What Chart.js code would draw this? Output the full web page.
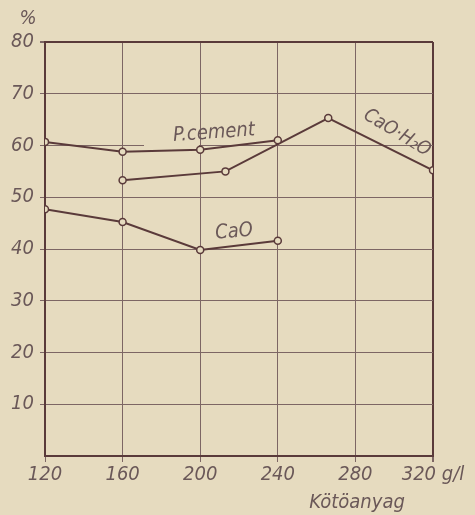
<!DOCTYPE html>
<html>
<head>
<meta charset="utf-8">
<script src="https://cdn.jsdelivr.net/npm/chart.js@4/dist/chart.umd.min.js"></script>
<style>
  html, body { margin: 0; padding: 0; background: #e6dbbf; }
  #wrap { width: 475px; height: 515px; }
</style>
</head>
<body>
<div id="wrap"><canvas id="chart"></canvas></div>
<script>
// values
const pcementX = [120, 160, 200, 240];
const pcementY = [60.7, 58.8, 59.2, 61.0];

const hydrateX = [160, 213, 266, 320];
const hydrateY = [53.3, 55.0, 65.3, 55.2];

const caoX = [120, 160, 200, 240];
const caoY = [47.7, 45.2, 39.8, 41.6];

const xTicks = [120, 160, 200, 240, 280, 320];
const xTickLabels = ['120', '160', '200', '240', '280', '320 g/l'];
const yTicks = [10, 20, 30, 40, 50, 60, 70, 80];

const paper = '#e6dbbf';
const ink = '#5a3a3a';
const gridInk = '#7d6664';
const textInk = '#6a5858';
const handFont = '"DejaVu Sans Condensed", "Liberation Sans Narrow", "DejaVu Sans", sans-serif';

const toPoints = (xs, ys) => xs.map((x, i) => ({ x: x, y: ys[i] }));

const lineStyle = {
    borderColor: ink,
    borderWidth: 2,
    pointRadius: 3.5,
    pointBackgroundColor: paper,
    pointBorderColor: ink,
    pointBorderWidth: 1.5,
    tension: 0,
    fill: false,
};

// labels written on the chart
const notes = {
    id: 'notes',
    beforeDatasetsDraw(chart) {
        const ctx = chart.ctx;
        // the gap cut in the grid behind "P.cement"
        ctx.save();
        ctx.fillStyle = paper;
        ctx.fillRect(144, 116, 55, 31);
        ctx.restore();
    },
    afterDraw(chart) {
        const ctx = chart.ctx;
        const put = (text, x, y, size, angle) => {
            ctx.save();
            ctx.translate(x, y);
            ctx.rotate((angle || 0) * Math.PI / 180);
            ctx.font = 'italic ' + size + 'px ' + handFont;
            ctx.fillStyle = textInk;
            ctx.textAlign = 'center';
            ctx.textBaseline = 'middle';
            ctx.fillText(text, 0, 0);
            ctx.restore();
        };
        put('%', 28, 19, 20);
        put('P.cement', 214, 133, 20, -4);
        put('CaO', 234, 232, 20, -5);
        put('CaO·H₂O', 397, 133, 19, 31);
        put('Kötöanyag', 357, 503, 20);
    }
};

new Chart(document.getElementById('chart'), {
    type: 'line',
    data: {
        datasets: [
            { label: 'P.cement', data: toPoints(pcementX, pcementY), ...lineStyle },
            { label: 'CaO·H2O', data: toPoints(hydrateX, hydrateY), ...lineStyle },
            { label: 'CaO', data: toPoints(caoX, caoY), ...lineStyle },
        ],
    },
    options: {
        responsive: true,
        maintainAspectRatio: false,
        animation: false,
        layout: { padding: { top: 42, right: 42, left: 0, bottom: 0 } },
        plugins: {
            legend: { display: false },
            tooltip: { enabled: false },
        },
        scales: {
            x: {
                type: 'linear',
                min: 120,
                max: 320,
                afterFit(scale) { scale.height = 59; },
                afterBuildTicks(scale) { scale.ticks = xTicks.map(v => ({ value: v })); },
                ticks: {
                    callback: (v) => xTickLabels[xTicks.indexOf(v)],
                    font: { family: handFont, style: 'italic', size: 20 },
                    color: textInk,
                    padding: 1,
                    maxRotation: 0,
                    autoSkip: false,
                },
                grid: {
                    color: (c) => (c.tick && c.tick.value === 320 ? ink : gridInk),
                    lineWidth: (c) => (c.tick && c.tick.value === 320 ? 2 : 1),
                    tickLength: 6,
                    tickColor: gridInk,
                },
                border: { color: ink, width: 2 },
            },
            y: {
                min: 0,
                max: 80,
                afterFit(scale) { scale.width = 45; },
                afterBuildTicks(scale) { scale.ticks = yTicks.map(v => ({ value: v })); },
                ticks: {
                    font: { family: handFont, style: 'italic', size: 20 },
                    color: textInk,
                    padding: 6,
                },
                grid: {
                    color: (c) => (c.tick && c.tick.value === 80 ? ink : gridInk),
                    lineWidth: (c) => (c.tick && c.tick.value === 80 ? 2 : 1),
                    tickLength: 5,
                    tickColor: gridInk,
                },
                border: { color: ink, width: 2 },
            },
        },
    },
    plugins: [notes],
});
</script>
</body>
</html>
